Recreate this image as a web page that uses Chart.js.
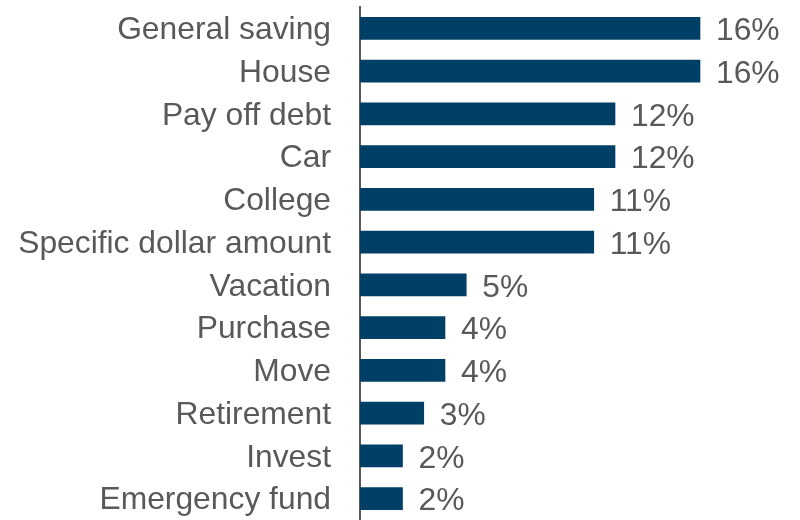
<!DOCTYPE html>
<html>
<head>
<meta charset="utf-8">
<script src="https://cdn.jsdelivr.net/npm/chart.js@4/dist/chart.umd.min.js"></script>
<style>
  html, body { margin: 0; padding: 0; background: #fff; }
  #wrap { width: 800px; height: 520px; position: relative; }
</style>
</head>
<body>
<div id="wrap"><canvas id="goalChart"></canvas></div>
<script>
// Savings goals
const categories = ['General saving', 'House', 'Pay off debt', 'Car', 'College',
    'Specific dollar amount', 'Vacation', 'Purchase', 'Move', 'Retirement', 'Invest', 'Emergency fund'];
const shares = [16, 16, 12, 12, 11, 11, 5, 4, 4, 3, 2, 2];

const textColor = '#595959';
const barColor = '#003f66';
const fontFamily = '"Liberation Sans", Arial, sans-serif';

// value labels to the right of each bar
const valueLabels = {
    id: 'valueLabels',
    afterDatasetsDraw(chart) {
        const ctx = chart.ctx;
        const meta = chart.getDatasetMeta(0);
        ctx.save();
        ctx.font = '31.8px ' + fontFamily;
        ctx.fillStyle = textColor;
        ctx.textAlign = 'left';
        ctx.textBaseline = 'middle';
        meta.data.forEach((bar, i) => {
            ctx.fillText(shares[i] + '%', bar.x + 16, bar.y + 3);
        });
        ctx.restore();
    }
};

new Chart(document.getElementById('goalChart').getContext('2d'), {
    type: 'bar',
    data: {
        labels: categories,
        datasets: [{
            data: shares,
            backgroundColor: barColor,
            borderWidth: 0,
            barThickness: 22
        }]
    },
    options: {
        indexAxis: 'y',
        responsive: true,
        maintainAspectRatio: false,
        animation: false,
        layout: { padding: { top: 7, right: 15, left: 0, bottom: 0 } },
        plugins: {
            legend: { display: false },
            tooltip: { enabled: false }
        },
        scales: {
            x: {
                display: false,
                min: 0,
                max: 20
            },
            y: {
                afterFit(scale) {
                    scale.width = 360;
                    scale.paddingTop = 0;
                    scale.paddingBottom = 0;
                },
                grid: { display: false, drawTicks: false },
                border: { display: true, color: textColor, width: 2 },
                ticks: {
                    color: textColor,
                    padding: 29,
                    labelOffset: 2,
                    font: { family: fontFamily, size: 31.8 }
                }
            }
        }
    },
    plugins: [valueLabels]
});
</script>
</body>
</html>
